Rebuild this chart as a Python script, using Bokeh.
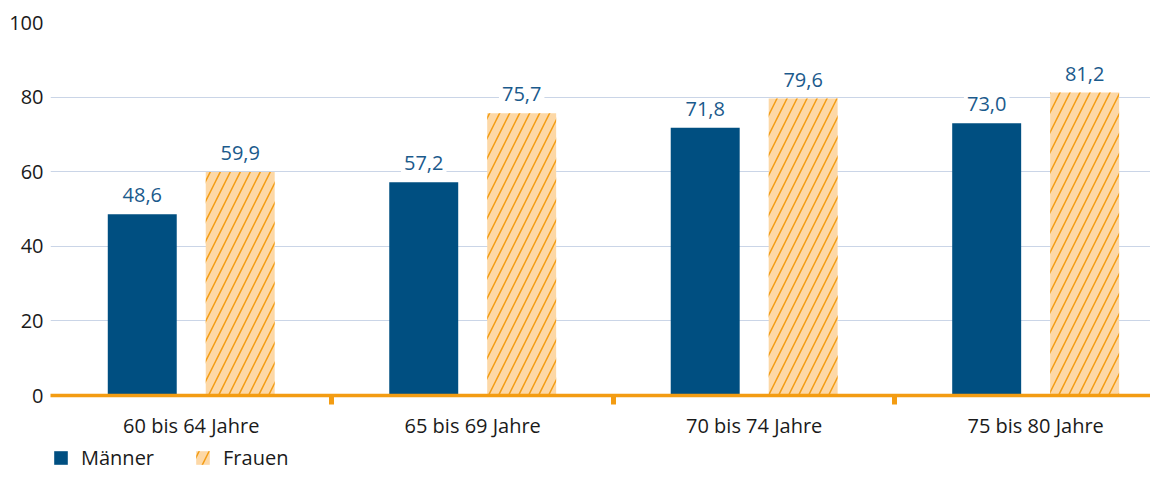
from bokeh.plotting import figure
from bokeh.models import (ColumnDataSource, FixedTicker, Legend, LegendItem, Range1d)
from bokeh.layouts import column
from bokeh.core.properties import value
from bokeh.transform import dodge
from bokeh.embed import file_html
from bokeh.resources import INLINE

categories = ["60 bis 64 Jahre", "65 bis 69 Jahre", "70 bis 74 Jahre", "75 bis 80 Jahre"]
maenner = [48.6, 57.2, 71.8, 73.0]
frauen = [59.9, 75.7, 79.6, 81.2]
y_ticks = [0, 20, 40, 60, 80, 100]
series_names = ["Männer", "Frauen"]

FONT = "Open Sans"
FS = "20px"
BLUE = "#004f81"
LABEL_BLUE = "#1b5a8c"
ORANGE = "#f39c12"
PEACH = "#fdd8a6"
TXT = "#1a1a1a"

xpos = [i + 0.5 for i in range(len(categories))]
fmt = lambda v: f"{v:.1f}".replace(".", ",")
src = ColumnDataSource(dict(
    x=xpos, m=maenner, f=frauen,
    ml=[fmt(v) for v in maenner], fl=[fmt(v) for v in frauen],
))

W = 1150
p = figure(width=W, height=441, output_backend="svg", toolbar_location=None,
           x_range=Range1d(0, 3.908), y_range=Range1d(0, 100),
           min_border_left=50, min_border_top=22, min_border_right=0, min_border_bottom=10)
p.outline_line_color = None
p.background_fill_color = "white"
p.border_fill_color = "white"

off = 0.174
w = 0.245
bar_m = dict(fill_color=BLUE, line_color=None)
bar_f = dict(fill_color=PEACH, line_color=None, hatch_pattern="/", hatch_color=ORANGE,
             hatch_scale=20, hatch_weight=1.5)
p.vbar(x=dodge("x", -off, range=p.x_range), top="m", width=w, source=src, **bar_m)
p.vbar(x=dodge("x", off, range=p.x_range), top="f", width=w, source=src, **bar_f)

for col, xo, top in (("ml", -off, "m"), ("fl", off, "f")):
    p.text(x=dodge("x", xo, range=p.x_range), y=top, text=col, source=src,
           text_align="center", text_baseline="bottom", y_offset=-9,
           text_font=value(FONT), text_font_size=FS, text_color=LABEL_BLUE,
           background_fill_color="white", padding=3)

# y axis
p.yaxis.ticker = FixedTicker(ticks=y_ticks)
p.yaxis.axis_line_color = None
p.yaxis.major_tick_line_color = None
p.yaxis.minor_tick_line_color = None
p.yaxis.major_tick_out = 0
p.yaxis.major_label_text_font = FONT
p.yaxis.major_label_text_font_size = FS
p.yaxis.major_label_text_color = TXT
p.yaxis.major_label_standoff = 7
p.ygrid.ticker = FixedTicker(ticks=y_ticks)
p.ygrid.grid_line_color = "#cad5e7"
p.ygrid.grid_line_width = 1
p.xgrid.grid_line_color = None

# x axis
p.xaxis.ticker = FixedTicker(ticks=xpos, minor_ticks=[1, 2, 3])
p.xaxis.major_label_overrides = {x: c for x, c in zip(xpos, categories)}
p.xaxis.axis_line_color = ORANGE
p.xaxis.axis_line_width = 3.5
p.xaxis.major_tick_line_color = None
p.xaxis.minor_tick_line_color = ORANGE
p.xaxis.minor_tick_line_width = 5
p.xaxis.minor_tick_out = 9
p.xaxis.minor_tick_in = 0
p.xaxis.major_label_text_font = FONT
p.xaxis.major_label_text_font_size = FS
p.xaxis.major_label_text_color = TXT
p.xaxis.major_label_standoff = 7

# legend strip (swatch renderers sit outside the visible range)
p2 = figure(width=W, height=30, output_backend="svg", toolbar_location=None,
            x_axis_type=None, y_axis_type=None, x_range=Range1d(0, 1), y_range=Range1d(0, 1),
            min_border=0)
p2.outline_line_color = None
p2.xgrid.grid_line_color = None
p2.ygrid.grid_line_color = None
dummy = ColumnDataSource(dict(x=[-5], top=[0]))
lm = p2.vbar(x="x", top="top", width=0.1, source=dummy, **bar_m)
lf = p2.vbar(x="x", top="top", width=0.1, source=dummy, **bar_f)
legend = Legend(items=[LegendItem(label=series_names[0], renderers=[lm]),
                       LegendItem(label=series_names[1], renderers=[lf])],
                orientation="horizontal", location=(2, 0),
                label_text_font=FONT, label_text_font_size=FS, label_text_color=TXT,
                glyph_width=17, glyph_height=17, label_standoff=12, spacing=40,
                padding=0, margin=0, border_line_color=None, background_fill_alpha=0)
p2.add_layout(legend)

layout = column(p, p2, spacing=0)
open("out.html", "w").write(file_html(layout, INLINE))
